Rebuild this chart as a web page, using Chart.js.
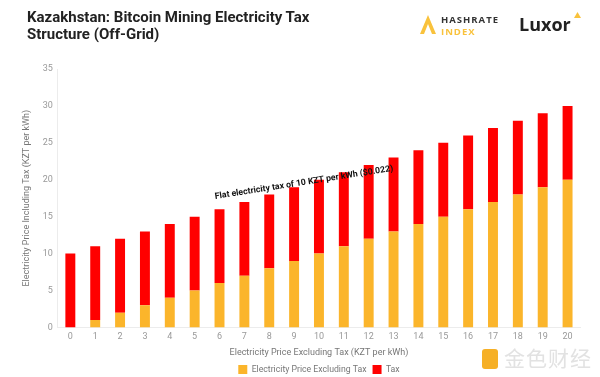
<!DOCTYPE html>
<html>
<head>
<meta charset="utf-8">
<script src="https://cdn.jsdelivr.net/npm/chart.js@4"></script>
<style>
  html, body { margin: 0; padding: 0; background: #fff; font-family: Roboto, sans-serif; }
  #wrap { position: relative; width: 600px; height: 377px; overflow: hidden; }
  canvas { position: absolute; left: 0; top: 0; }
  .title { position: absolute; left: 27px; top: 9px; font-size: 15px; font-weight: bold; color: #222; line-height: 17px; }
  .hr { position: absolute; left: 418px; top: 13px; }
  .hr .txt { position: absolute; left: 23px; top: 1px; font: bold 9.5px "Open Sans", sans-serif; letter-spacing: 1px; line-height: 12px; color: #333; }
  .hr .txt span { color: #f9c23c; }
  .lux { position: absolute; left: 519px; top: 12px; font: bold 18px "Open Sans", sans-serif; color: #222; }
  .wm { position: absolute; left: 482px; top: 342px; font: 21px "Noto Sans CJK SC", sans-serif; color: #e2e2e2; letter-spacing: 1px; }
  .wm b { display: inline-block; width: 16px; height: 20px; background: #f6b026; border-radius: 3px; vertical-align: -3px; margin-right: 6px; }
</style>
</head>
<body>
<div id="wrap">
  <canvas id="c" width="600" height="384"></canvas>
  <div class="title">Kazakhstan: Bitcoin Mining Electricity Tax<br>Structure (Off-Grid)</div>
  <div class="hr">
    <svg width="20" height="22"><polygon points="2,21 10,2 18,21 14,21 10,11 6,21" fill="#f9c23c"/></svg>
    <div class="txt">HASHRATE<br><span>INDEX</span></div>
  </div>
  <div class="lux">Luxor<svg width="7" height="7" style="vertical-align:top;margin-left:3px"><polygon points="0,6 3.5,0 7,6" fill="#f9c23c"/></svg></div>
  <div class="wm"><b></b>金色财经</div>
</div>
<script>
const priceLabels = ['0','1','2','3','4','5','6','7','8','9','10','11','12','13','14','15','16','17','18','19','20']
const priceExTax = [0,1,2,3,4,5,6,7,8,9,10,11,12,13,14,15,16,17,18,19,20]
const taxValues = [10,10,10,10,10,10,10,10,10,10,10,10,10,10,10,10,10,10,10,10,10]
const noteText = 'Flat electricity tax of 10 KZT per kWh ($0.022)'

// rotated note above the bars
const notePlugin = {
  id: 'note',
  afterDatasetsDraw(chart) {
    const ctx = chart.ctx
    const x = chart.scales.x.getPixelForValue(9.4)
    const y = chart.scales.y.getPixelForValue(19.6)
    ctx.save()
    ctx.translate(x, y)
    ctx.rotate(-9 * Math.PI / 180)
    ctx.font = 'bold 8.7px Roboto'
    ctx.fillStyle = '#111'
    ctx.textAlign = 'center'
    ctx.textBaseline = 'middle'
    ctx.fillText(noteText, 0, 0)
    ctx.restore()
  }
}

new Chart(document.getElementById('c'), {
  type: 'bar',
  data: {
    labels: priceLabels,
    datasets: [
      { label: 'Electricity Price Excluding Tax', data: priceExTax, backgroundColor: '#fbb52b', barPercentage: 0.8, categoryPercentage: 0.5 },
      { label: 'Tax', data: taxValues, backgroundColor: '#ff0000', barPercentage: 0.8, categoryPercentage: 0.5 }
    ]
  },
  options: {
    responsive: false,
    animation: false,
    layout: { padding: { top: 69, right: 20, left: 21, bottom: 0 } },
    plugins: {
      legend: {
        position: 'bottom',
        fullSize: false,
        labels: { boxWidth: 9, boxHeight: 9, color: '#777', font: { family: 'Roboto', size: 8.7 }, padding: 6 }
      },
      tooltip: { enabled: false }
    },
    scales: {
      x: {
        stacked: true,
        grid: { display: false, drawTicks: false },
        border: { color: '#ececec' },
        ticks: { color: '#999', font: { family: 'Roboto', size: 9 }, maxRotation: 0, padding: 4 },
        title: { display: true, text: 'Electricity Price Excluding Tax (KZT per kWh)', color: '#777', font: { family: 'Roboto', size: 9 }, padding: { top: 1, bottom: 1 } }
      },
      y: {
        stacked: true,
        min: 0, max: 35,
        grid: { display: false, drawTicks: false },
        border: { color: '#ececec' },
        ticks: { stepSize: 5, color: '#999', font: { family: 'Roboto', size: 9 }, padding: 5 },
        title: { display: true, text: 'Electricity Price Including Tax (KZT per kWh)', color: '#777', font: { family: 'Roboto', size: 9 }, padding: { top: 0, bottom: 6 } }
      }
    }
  },
  plugins: [notePlugin]
})
</script>
</body>
</html>
